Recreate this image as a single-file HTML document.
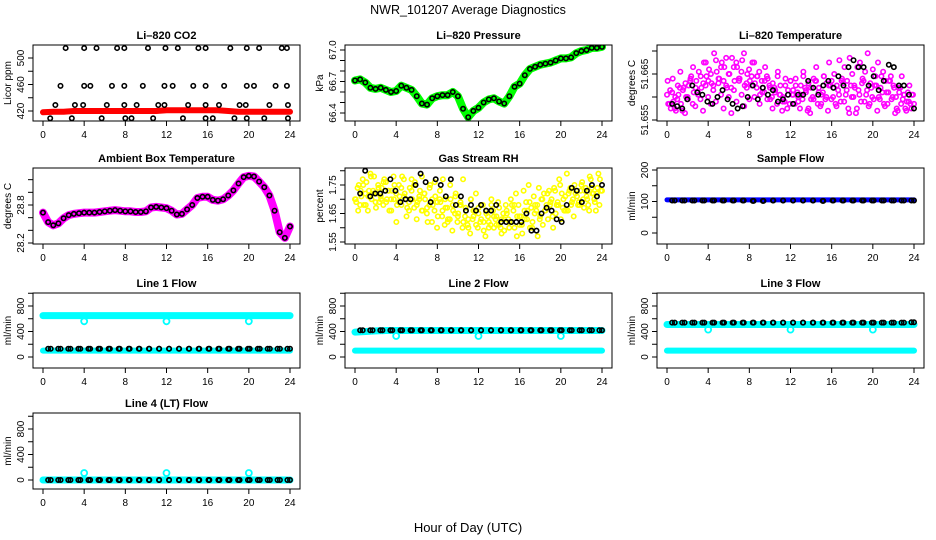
<!DOCTYPE html>
<html><head><meta charset="utf-8"><style>
body{margin:0;background:#fff}
svg{display:block;font-family:"Liberation Sans",sans-serif}
</style></head><body>
<svg id="c" width="936" height="540" viewBox="0 0 936 540">
<text x="468" y="14" text-anchor="middle" font-size="12.5">NWR_101207  Average Diagnostics</text>
<text x="468" y="532" text-anchor="middle" font-size="13">Hour of Day (UTC)</text>
</svg>
<script>
const xTicks=[0,4,8,12,16,20,24];
// CO2
const co2Red=[418,419,419,420,420,420,420,420,420,420,420,420,421,421,421,421,421,421,420,419,419,419,419,419,419];
const co2Hours=[2.2,4,5.2,7.2,7.9,10.2,11.9,13.1,15.1,15.8,18.2,19.8,21,23.2,23.7,1.7,4,4.6,6.7,7.9,9.7,11.8,12.6,14.6,15.8,17.6,19.8,20.5,22.6,23.7,1.2,3.1,3.9,6.2,7.9,9.1,11.2,11.8,14.1,15.8,17.1,19.1,19.7,22,23.8,0.7,2.8,5.7,8,8.6,10.7,13.6,15.8,16.5,18.6,19.8,21.5,23.8];
const co2Vals=[515,515,515,515,515,515,515,515,515,515,515,515,515,515,515,458,458,458,458,458,458,458,458,458,458,458,458,458,458,458,429,429,429,429,429,429,429,429,429,429,429,429,429,429,429,409,409,409,409,409,409,409,409,409,409,409,409,409];
// Pressure (half hourly)
const pressVals=[66.71,66.72,66.69,66.64,66.63,66.64,66.62,66.60,66.61,66.66,66.64,66.62,66.56,66.49,66.48,66.54,66.56,66.57,66.57,66.60,66.56,66.44,66.36,66.42,66.45,66.50,66.53,66.54,66.51,66.49,66.56,66.65,66.68,66.76,66.82,66.84,66.86,66.87,66.88,66.90,66.92,66.92,66.93,66.97,66.99,67.00,67.02,67.02,67.03];
// Li-820 temperature
const tempMag=[51.6605,51.6585,51.661,51.6575,51.6595,51.662,51.657,51.6565,51.660,51.6635,51.6585,51.658,51.661,51.6595,51.657,51.6625,51.660,
51.6585,51.6615,51.659,51.663,51.6605,51.6575,51.6625,51.660,51.6565,51.6615,51.659,51.6635,51.6605,51.658,51.662,51.6595,
51.6625,51.660,51.6645,51.6585,51.661,51.6635,51.6595,51.662,51.6575,51.661,51.6645,51.6605,51.659,51.6625,51.6605,51.6635,
51.6615,51.664,51.660,51.6625,51.6655,51.6615,51.663,51.6595,51.664,51.6665,51.662,51.6605,51.6645,51.663,51.6675,51.6635,
51.665,51.6625,51.668,51.664,51.6665,51.6635,51.6685,51.665,51.662,51.6665,51.6675,51.664,51.6655,51.6695,51.663,51.666,
51.6645,51.6675,51.662,51.6655,51.6635,51.661,51.6645,51.6625,51.660,51.662,51.6585,51.6605,51.657,51.659,51.6575,51.6585];
const tempBlk=[51.6585,51.658,51.6575,51.6595,51.6625,51.661,51.6605,51.659,51.6585,51.660,51.6615,51.6595,51.6585,51.6575,51.658,51.660,51.6625,51.6595,51.662,51.6605,51.6615,51.659,51.6595,51.6605,51.6585,51.6605,51.6605,51.6635,51.662,51.6605,51.6625,51.6635,51.662,51.6645,51.6625,51.6665,51.668,51.6665,51.6665,51.6625,51.6645,51.6615,51.6635,51.667,51.6665,51.6625,51.6625,51.6605,51.6575];
// Ambient box temperature
const ambVals=[28.68,28.53,28.48,28.51,28.59,28.64,28.66,28.67,28.68,28.68,28.68,28.69,28.70,28.71,28.72,28.71,28.70,28.70,28.69,28.69,28.70,28.76,28.77,28.76,28.75,28.71,28.65,28.66,28.73,28.80,28.91,28.93,28.93,28.88,28.87,28.89,28.95,29.03,29.14,29.24,29.26,29.25,29.17,29.08,28.95,28.71,28.37,28.28,28.46];
// RH
const rhYel=[1.70,1.74,1.68,1.77,1.72,1.66,1.79,1.73,1.69,1.75,1.71,1.68,1.76,1.73,1.70,1.78,1.72,
1.69,1.74,1.77,1.70,1.66,1.73,1.75,1.68,1.71,1.78,1.72,1.67,1.74,1.70,1.76,1.69,
1.73,1.66,1.70,1.62,1.75,1.68,1.71,1.64,1.69,1.77,1.67,1.63,1.70,1.66,1.72,1.65,
1.68,1.62,1.66,1.60,1.70,1.64,1.61,1.67,1.63,1.59,1.65,1.62,1.68,1.60,1.64,1.61,
1.58,1.63,1.66,1.60,1.62,1.68,1.57,1.64,1.61,1.66,1.63,1.69,1.60,1.65,1.68,1.63,
1.70,1.66,1.72,1.68,1.64,1.73,1.69,1.75,1.67,1.71,1.66,1.74,1.70,1.72,1.68,1.73];
const rhBlk=[1.72,1.80,1.71,1.72,1.72,1.73,1.77,1.73,1.69,1.70,1.70,1.75,1.79,1.76,1.69,1.77,1.75,1.71,1.77,1.68,1.71,1.66,1.68,1.66,1.68,1.66,1.66,1.68,1.62,1.62,1.62,1.62,1.62,1.65,1.59,1.59,1.65,1.67,1.66,1.63,1.62,1.68,1.74,1.73,1.69,1.73,1.75,1.71,1.75];
// Flows (hourly bands)
const sampleBlue=[105,105,105,105,105,105,105,105,105,105,105,105,105,105,105,105,105,105,105,105,105,105,105,105,105];
const sampleBlk=[103,103,103,103,103,103,103,103,102,102,103,103,103,103,103,102,103,103,103,103,103,103,103,103,103];
const l1Upper=[650,650,650,650,650,650,650,650,650,650,650,650,650,650,650,650,650,650,650,650,650,650,650,650,650];
const l1Lower=[100,100,100,100,100,100,100,100,100,100,100,100,100,100,100,100,100,100,100,100,100,100,100,100,100];
const l1Blk=[130,130,130,130,130,130,130,130,130,130,130,130,130,130,130,130,130,130,130,130,130,130,130,130,130];
const l2Upper=[390,400,410,415,415,415,415,415,415,415,415,415,415,415,415,415,415,415,415,415,415,415,415,415,415];
const l2Lower=[100,100,100,100,100,100,100,100,100,100,100,100,100,100,100,100,100,100,100,100,100,100,100,100,100];
const l2Blk=[420,420,420,420,420,420,420,420,420,420,420,420,420,420,420,420,420,420,420,420,420,420,420,420,420];
const l3Upper=[510,510,510,510,510,510,510,510,510,510,510,510,510,510,510,510,510,510,510,510,510,510,510,510,510];
const l3Lower=[100,100,100,100,100,100,100,100,100,100,100,100,100,100,100,100,100,100,100,100,100,100,100,100,100];
const l3Blk=[540,540,540,540,540,540,540,540,540,540,540,540,540,540,540,540,540,540,540,540,540,540,540,540,545];
const l4Cyan=[0,0,0,0,0,0,0,0,0,0,0,0,0,0,0,0,0,0,0,0,0,0,0,0,0];
const l4Blk=[0,0,0,0,0,0,0,0,0,0,0,0,0,0,0,0,0,0,0,0,0,0,0,0,0];
const dipHours=[4,12,20];
const l1Dip=[560,560,560];
const l2Dip=[330,330,330];
const l3Dip=[430,430,430];
const l4Spike=[110,110,110];

const svg=document.getElementById('c');
const NS='http://www.w3.org/2000/svg';
function mk(tag,attrs,parent){const e=document.createElementNS(NS,tag);for(const k in attrs)e.setAttribute(k,attrs[k]);(parent||svg).appendChild(e);return e;}
const cols=[[33,300],[345,612],[657,924]];
const rows=[[45,121],[168,244],[293,368],[413,489]];

function panel(name,col,row,title,ylab,ref,ticks,labeled){
  const [x0,x1]=cols[col],[y0,y1]=rows[row];
  const g=mk('g',{});
  
  
  const xs=h=>x0+10+h*(x1-x0-20)/24;
  const ys=v=>ref[1]+(v-ref[0])*(ref[3]-ref[1])/(ref[2]-ref[0]);
  const clip=mk('clipPath',{id:'cl'+name},g);
  mk('rect',{x:x0,y:y0,width:x1-x0,height:y1-y0},clip);
  const plot=mk('g',{'clip-path':'url(#cl'+name+')'},g);
  
  
  const box=mk('rect',{x:x0,y:y0,width:x1-x0,height:y1-y0,fill:'none',stroke:'#000','stroke-width':1},g);
  
  
  const t=mk('text',{x:(x0+x1)/2,y:y0-6,'text-anchor':'middle','font-size':11,'font-weight':'bold'},g);
  t.textContent=title;
  
  
  const yl=mk('text',{x:0,y:0,'text-anchor':'middle','font-size':10,transform:`translate(${x0-22},${(y0+y1)/2}) rotate(-90)`},g);
  yl.textContent=ylab;
  
  
  xTicks.forEach(h=>{
    mk('line',{x1:xs(h),x2:xs(h),y1:y1,y2:y1+5,stroke:'#000'},g);
    const tx=mk('text',{x:xs(h),y:y1+17,'text-anchor':'middle','font-size':10},g);
    tx.textContent=h;
    
    
  });
  ticks.forEach((v,i)=>{
    const y=ys(v);
    mk('line',{x1:x0-5,x2:x0,y1:y,y2:y,stroke:'#000'},g);
    if(labeled[i]){
      const ty=mk('text',{x:0,y:0,'text-anchor':'middle','font-size':10,transform:`translate(${x0-9},${y}) rotate(-90)`},g);
      ty.textContent=labeled[i];
      
      
    }
  });
  return {plot,xs,ys};
}
function band(p,vals,color,w,name){
  const pts=vals.map((v,i)=>p.xs(i*24/(vals.length-1)).toFixed(1)+','+p.ys(v).toFixed(1)).join(' ');
  const l=mk('polyline',{points:pts,fill:'none',stroke:color,'stroke-width':w,'stroke-linejoin':'round','stroke-linecap':'round'},p.plot);
  
  
}
function pts(p,hours,vals,color,name,r,sw){
  const g=mk('g',{},p.plot);
  
  
  vals.forEach((v,i)=>{
    const h=hours?hours[i]:i*24/(vals.length-1);
    const c=mk('circle',{cx:p.xs(h),cy:p.ys(v),r:r||2.2,fill:'none',stroke:color,'stroke-width':sw||1.6},g);
    
    
  });
}
function ptsOffset(p,vals,color,name,start,end){
  const hrs=vals.map((v,i)=>start+i*(end-start)/(vals.length-1));
  pts(p,hrs,vals,color,name);
}
const flowTicks=[0,200,400,600,800,1000], flowLab=['0','','400','','800',''];
// Row 1
let p=panel('co2-panel',0,0,'Li–820 CO2','Licor ppm',[420,111,500,58],[420,440,460,480,500],['420','','460','','500']);
band(p,co2Red,'#ff0000',6,'co2-red-series');
pts(p,co2Hours,co2Vals,'#000','co2-black-points');
p=panel('pressure-panel',1,0,'Li–820 Pressure','kPa',[66.4,113,67.0,50],[66.4,66.5,66.6,66.7,66.8,66.9,67.0],['66.4','','','66.7','','','67.0']);
band(p,pressVals,'#00ff00',8,'pressure-green-series');
pts(p,null,pressVals,'#000','pressure-black-points',2.2);
p=panel('li-temp-panel',2,0,'Li–820 Temperature','degrees C',[51.655,120,51.665,74],[51.655,51.66,51.665,51.67],['51.655','','51.665','']);
pts(p,null,tempMag,'#ff00ff','li-temp-magenta-points');
ptsOffset(p,tempMag.slice().reverse(),'#ff00ff','li-temp-magenta-points-2',0.12,23.9);
ptsOffset(p,tempMag.slice(48).concat(tempMag.slice(0,48)),'#ff00ff','li-temp-magenta-points-3',0.06,23.8);
ptsOffset(p,tempBlk,'#000','li-temp-black-points',0.5,24);
// Row 2
p=panel('ambient-panel',0,1,'Ambient Box Temperature','degrees C',[28.2,243,28.8,205],[28.2,28.4,28.6,28.8,29.0,29.2],['28.2','','','28.8','','']);
band(p,ambVals,'#ff00ff',8,'ambient-magenta-series');
pts(p,null,ambVals,'#000','ambient-black-points',2.2);
p=panel('rh-panel',1,1,'Gas Stream RH','percent',[1.55,242,1.75,185],[1.55,1.6,1.65,1.7,1.75,1.8],['1.55','','1.65','','1.75','']);
pts(p,null,rhYel,'#ffff00','rh-yellow-points');
ptsOffset(p,rhYel.slice(8).concat(rhYel.slice(0,8)),'#ffff00','rh-yellow-points-2',0.12,23.9);
ptsOffset(p,rhYel.slice(20).concat(rhYel.slice(0,20)),'#ffff00','rh-yellow-points-3',0.06,23.8);
ptsOffset(p,rhBlk,'#000','rh-black-points',0.5,24);
p=panel('sample-flow-panel',2,1,'Sample Flow','ml/min',[0,233,200,170],[0,50,100,150,200],['0','','100','','200']);
band(p,sampleBlue,'#0000ff',5,'sample-blue-series');
ptsOffset(p,sampleBlk,'#000','sample-black-points',0.5,24);
ptsOffset(p,sampleBlk,'#000','sample-black-points-2',0.75,23.75);
// Row 3
function flow(name,col,row,title,up,low,blk,dip){
  const q=panel(name,col,row,title,'ml/min',row==3?[0,480,800,429]:[0,357,800,306],flowTicks,flowLab);
  if(up) band(q,up,'#00ffff',7,'cyan-upper-band');
  if(low) band(q,low,'#00ffff',6,'cyan-lower-band');
  pts(q,dipHours,dip,'#00ffff','cyan-dips',3,1.8);
  ptsOffset(q,blk,'#000','black-points',0.5,24);
  ptsOffset(q,blk,'#000','black-points-2',0.75,23.75);
}
flow('line1-flow-panel',0,2,'Line 1 Flow',l1Upper,l1Lower,l1Blk,l1Dip);
flow('line2-flow-panel',1,2,'Line 2 Flow',l2Upper,l2Lower,l2Blk,l2Dip);
flow('line3-flow-panel',2,2,'Line 3 Flow',l3Upper,l3Lower,l3Blk,l3Dip);
flow('line4-flow-panel',0,3,'Line 4 (LT) Flow',l4Cyan,null,l4Blk,l4Spike);
</script>
</body></html>
